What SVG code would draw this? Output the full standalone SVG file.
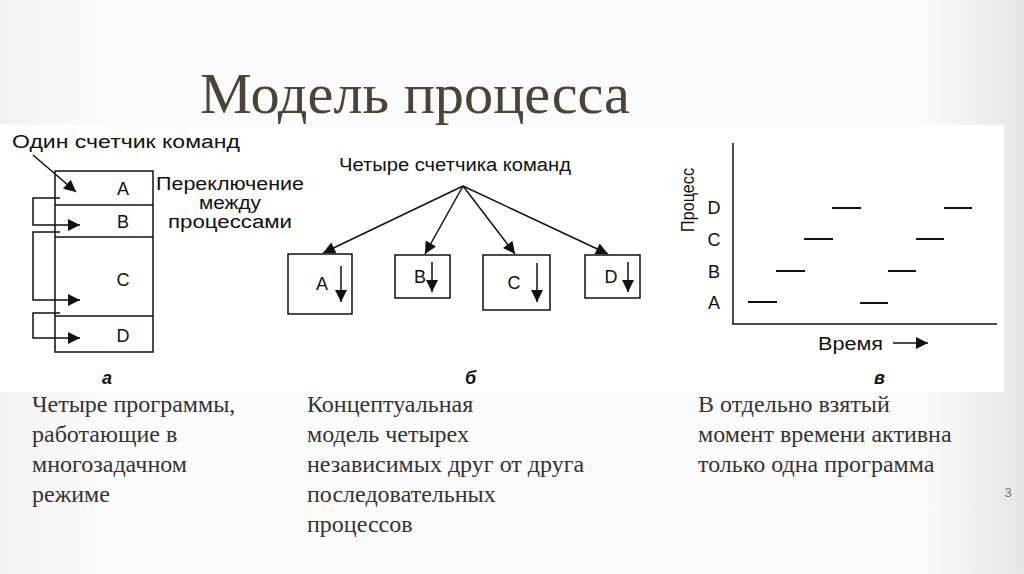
<svg xmlns="http://www.w3.org/2000/svg" width="1024" height="574" viewBox="0 0 1024 574">
<defs>
<linearGradient id="bg" x1="0" x2="1" y1="0" y2="0"><stop offset="0" stop-color="#f2f2f2"/><stop offset="0.1" stop-color="#fbfbfb"/><stop offset="0.9" stop-color="#fbfbfb"/><stop offset="1" stop-color="#e6e6e6"/></linearGradient>
<marker id="ab" viewBox="0 0 10 10" refX="10" refY="5" markerWidth="14" markerHeight="12" orient="auto" markerUnits="userSpaceOnUse"><path d="M0,0 L10,5 L0,10 z" fill="#111"/></marker>
<style>
.s{font-family:"Liberation Sans",Arial,sans-serif;fill:#111;font-size:18px}
.t{font-family:"Liberation Serif","Times New Roman",serif;fill:#333;font-size:24px}
.l{stroke:#111;stroke-width:1.5;fill:none}
.b{fill:#fff;stroke:#111;stroke-width:1.5}
</style>
</defs>
<rect width="1024" height="574" fill="url(#bg)"/>
<rect x="0" y="125" width="1004" height="267" fill="#fff"/>
<text x="415" y="113" text-anchor="middle" font-family="Liberation Serif,serif" font-size="56" fill="#4b4336" textLength="430" lengthAdjust="spacingAndGlyphs">Модель процесса</text>
<g id="fig-a">
<text class="s" x="12" y="148" textLength="228" lengthAdjust="spacingAndGlyphs">Один счетчик команд</text>
<rect class="b" x="55" y="171" width="98" height="181"/>
<line class="l" x1="55" y1="205" x2="153" y2="205"/>
<line class="l" x1="55" y1="237" x2="153" y2="237"/>
<line class="l" x1="55" y1="316" x2="153" y2="316"/>
<text class="s" x="123" y="195" text-anchor="middle">A</text>
<text class="s" x="123" y="228" text-anchor="middle">B</text>
<text class="s" x="123" y="286" text-anchor="middle">C</text>
<text class="s" x="123" y="342" text-anchor="middle">D</text>
<text class="s" x="230" y="190" text-anchor="middle" textLength="148" lengthAdjust="spacingAndGlyphs">Переключение</text>
<text class="s" x="230" y="209" text-anchor="middle" textLength="62" lengthAdjust="spacingAndGlyphs">между</text>
<text class="s" x="230" y="228" text-anchor="middle" textLength="124" lengthAdjust="spacingAndGlyphs">процессами</text>
<text class="s" x="102" y="384" font-style="italic" font-weight="bold" font-size="14">а</text>
</g>
<g id="fig-b">
<text class="s" x="455" y="171" text-anchor="middle" textLength="232" lengthAdjust="spacingAndGlyphs">Четыре счетчика команд</text>
<rect class="b" x="288" y="254" width="64" height="60"/>
<rect class="b" x="395" y="255" width="55" height="43"/>
<rect class="b" x="483" y="255" width="67" height="55"/>
<rect class="b" x="585" y="255" width="55" height="43"/>
<text class="s" x="322" y="290" text-anchor="middle">A</text>
<text class="s" x="420" y="283" text-anchor="middle">B</text>
<text class="s" x="514" y="289" text-anchor="middle">C</text>
<text class="s" x="611" y="283" text-anchor="middle">D</text>
<text class="s" x="465" y="384" font-style="italic" font-weight="bold" font-size="14">б</text>
</g>
<g id="fig-c">
<line class="l" x1="733" y1="143" x2="733" y2="324"/>
<line class="l" x1="732" y1="324" x2="997" y2="324"/>
<text class="s" transform="translate(694,232) rotate(-90)" textLength="64" lengthAdjust="spacingAndGlyphs">Процесс</text>
<text class="s" x="714" y="214" text-anchor="middle">D</text>
<text class="s" x="714" y="246" text-anchor="middle">C</text>
<text class="s" x="714" y="278" text-anchor="middle">B</text>
<text class="s" x="714" y="309" text-anchor="middle">A</text>
<g stroke="#111" stroke-width="2">
<line x1="748" y1="302" x2="777" y2="302"/><line x1="776" y1="271" x2="805" y2="271"/>
<line x1="804" y1="239" x2="833" y2="239"/><line x1="832" y1="208" x2="861" y2="208"/>
<line x1="860" y1="303" x2="888" y2="303"/><line x1="888" y1="271" x2="916" y2="271"/>
<line x1="916" y1="239" x2="944" y2="239"/><line x1="944" y1="208" x2="972" y2="208"/>
</g>
<text class="s" x="818" y="350" textLength="65" lengthAdjust="spacingAndGlyphs">Время</text>
<text class="s" x="874" y="384" font-style="italic" font-weight="bold" font-size="14">в</text>
</g>
<g id="connectors">
<line class="l" x1="33" y1="155" x2="76" y2="192" marker-end="url(#ab)"/>
<polyline class="l" points="60,198 33,198 33,225 80,225" marker-end="url(#ab)"/>
<polyline class="l" points="60,232 33,232 33,300 80,300" marker-end="url(#ab)"/>
<polyline class="l" points="60,313 33,313 33,338 80,338" marker-end="url(#ab)"/>
<line class="l" x1="463" y1="186" x2="323" y2="253" marker-end="url(#ab)"/>
<line class="l" x1="463" y1="186" x2="425" y2="254" marker-end="url(#ab)"/>
<line class="l" x1="463" y1="186" x2="515" y2="254" marker-end="url(#ab)"/>
<line class="l" x1="463" y1="186" x2="608" y2="254" marker-end="url(#ab)"/>
<line class="l" x1="341" y1="266" x2="341" y2="302" marker-end="url(#ab)"/>
<line class="l" x1="432" y1="262" x2="432" y2="292" marker-end="url(#ab)"/>
<line class="l" x1="537" y1="263" x2="537" y2="302" marker-end="url(#ab)"/>
<line class="l" x1="628" y1="262" x2="628" y2="292" marker-end="url(#ab)"/>
<line class="l" x1="893" y1="343" x2="928" y2="343" marker-end="url(#ab)"/>
</g>
<text class="t" x="32" y="412">Четыре программы,</text>
<text class="t" x="32" y="442">работающие в</text>
<text class="t" x="32" y="472">многозадачном</text>
<text class="t" x="32" y="502">режиме</text>
<text class="t" x="307" y="412">Концептуальная</text>
<text class="t" x="307" y="442">модель четырех</text>
<text class="t" x="307" y="472">независимых друг от друга</text>
<text class="t" x="307" y="502">последовательных</text>
<text class="t" x="307" y="532">процессов</text>
<text class="t" x="698" y="412">В отдельно взятый</text>
<text class="t" x="698" y="442">момент времени активна</text>
<text class="t" x="698" y="472">только одна программа</text>
<text x="1008" y="497" font-family="Liberation Sans,sans-serif" font-size="13" fill="#777" text-anchor="middle">3</text>
</svg>
